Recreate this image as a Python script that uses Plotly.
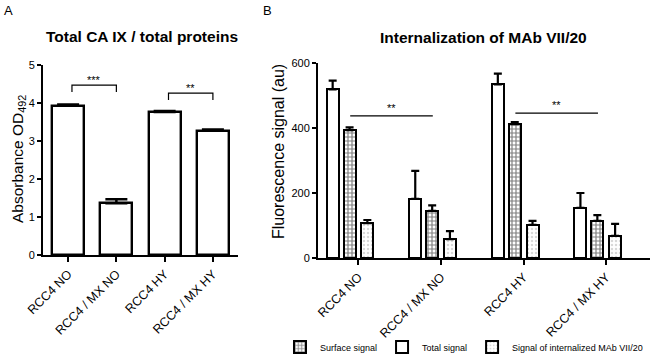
import plotly.graph_objects as go

FONT = "Liberation Sans, Arial, sans-serif"

# ---------------- data ----------------
categories = ["RCC4 NO", "RCC4 / MX NO", "RCC4 HY", "RCC4 / MX HY"]

# Panel A: absorbance OD492
absorbance = [3.93, 1.36, 3.76, 3.27]
absorbance_err = [0.03, 0.11, 0.03, 0.03]
sig_A = [(0, 1, 4.47, "***"), (2, 3, 4.26, "**")]

# Panel B: fluorescence signal (au)
surface_signal = [393, 145, 412, 114]
surface_err = [9, 17, 6, 18]
total_signal = [519, 182, 534, 154]
total_err = [27, 86, 33, 46]
internal_signal = [107, 58, 102, 68]
internal_err = [10, 25, 12, 37]
sig_B = [(0, 1, 437, "**"), (2, 3, 446, "**")]

W, H = 650, 359


def px_x(p):
    return p / W


def px_y(p):
    return (H - p) / H


fig = go.Figure()

# ---------------- Panel A ----------------
fig.add_trace(go.Bar(
    x=categories, y=absorbance, width=0.66,
    marker=dict(color="white", line=dict(color="black", width=2.4)),
    error_y=dict(type="data", array=absorbance_err, arrayminus=[0] * 4,
                 symmetric=False, color="black", thickness=2.5, width=11),
    showlegend=False, xaxis="x", yaxis="y",
))

# ---------------- Panel B ----------------
bw = 0.145
fig.add_trace(go.Bar(
    name="Surface signal", x=categories, y=surface_signal, width=bw, offset=-0.18,
    marker=dict(color="white", line=dict(color="black", width=2),
                pattern=dict(shape="+", fgcolor="black", bgcolor="white", size=4, solidity=0.5)),
    error_y=dict(type="data", array=surface_err, arrayminus=[0] * 4, symmetric=False,
                 color="black", thickness=2.2, width=4),
    xaxis="x2", yaxis="y2",
))
fig.add_trace(go.Bar(
    name="Total signal", x=categories, y=total_signal, width=bw, offset=-0.385,
    marker=dict(color="white", line=dict(color="black", width=2)),
    error_y=dict(type="data", array=total_err, arrayminus=[0] * 4, symmetric=False,
                 color="black", thickness=2.2, width=4),
    xaxis="x2", yaxis="y2",
))
fig.add_trace(go.Bar(
    name="Signal of internalized MAb VII/20", x=categories, y=internal_signal, width=bw, offset=0.035,
    marker=dict(color="white", line=dict(color="black", width=2),
                pattern=dict(shape=".", fgcolor="#b0b0b0", bgcolor="white", size=4, solidity=0.3)),
    error_y=dict(type="data", array=internal_err, arrayminus=[0] * 4, symmetric=False,
                 color="black", thickness=2.2, width=4),
    xaxis="x2", yaxis="y2",
))

shapes = []
annotations = []

# significance brackets panel A
for i, j, yv, label in sig_A:
    x0, x1 = i + 0.08, j + 0.0
    leg = 0.18
    shapes.append(dict(type="path", xref="x", yref="y",
                       path=f"M {x0},{yv - leg} L {x0},{yv} L {x1},{yv} L {x1},{yv - leg}",
                       line=dict(color="black", width=1.2)))
    annotations.append(dict(x=(x0 + x1) / 2, y=yv, xref="x", yref="y", text=label,
                            showarrow=False, yanchor="bottom", yshift=-3,
                            font=dict(family=FONT, size=11, color="black")))

# significance lines panel B
for i, j, yv, label in sig_B:
    x0, x1 = i - 0.1, j - 0.1
    shapes.append(dict(type="line", xref="x2", yref="y2", x0=x0, x1=x1, y0=yv, y1=yv,
                       line=dict(color="black", width=1.2)))
    annotations.append(dict(x=(x0 + x1) / 2, y=yv, xref="x2", yref="y2", text=label,
                            showarrow=False, yanchor="bottom", yshift=0,
                            font=dict(family=FONT, size=11, color="black")))

# titles, axis titles and panel letters
annotations += [
    dict(x=px_x(142), y=px_y(36), xref="paper", yref="paper", text="<b>Total CA IX / total proteins</b>",
         showarrow=False, xanchor="center", yanchor="middle", font=dict(family=FONT, size=15.5, color="black")),
    dict(x=px_x(484), y=px_y(37), xref="paper", yref="paper", text="<b>Internalization of MAb VII/20</b>",
         showarrow=False, xanchor="center", yanchor="middle", font=dict(family=FONT, size=15.5, color="black")),
    dict(x=px_x(2), y=px_y(10), xref="paper", yref="paper", text="A",
         showarrow=False, xanchor="left", yanchor="middle", font=dict(family=FONT, size=13, color="black")),
    dict(x=px_x(261), y=px_y(10), xref="paper", yref="paper", text="B",
         showarrow=False, xanchor="left", yanchor="middle", font=dict(family=FONT, size=13, color="black")),
    dict(x=px_x(18), y=px_y(159), xref="paper", yref="paper", text="Absorbance OD<sub>492</sub>",
         textangle=-90, showarrow=False, xanchor="center", yanchor="middle",
         font=dict(family=FONT, size=15.5, color="black")),
    dict(x=px_x(278), y=px_y(152), xref="paper", yref="paper", text="Fluorescence signal (au)",
         textangle=-90, showarrow=False, xanchor="center", yanchor="middle",
         font=dict(family=FONT, size=16, color="black")),
]

line_common = dict(showline=True, linecolor="black", linewidth=2, ticks="outside",
                   tickcolor="black", tickwidth=2, showgrid=False, zeroline=False,
                   automargin=False)
ytick_font = dict(family=FONT, size=11, color="black")
xtick_font = dict(family=FONT, size=12.5, color="black")

fig.update_layout(
    width=W, height=H, margin=dict(l=0, r=0, t=0, b=0, autoexpand=False),
    paper_bgcolor="white", plot_bgcolor="white",
    font=dict(family=FONT, color="black"),
    bargap=0,
    xaxis=dict(domain=[px_x(43), px_x(238)], range=[-0.52, 3.52], anchor="y",
               tickangle=-45, ticklen=5, tickfont=xtick_font, **line_common),
    yaxis=dict(domain=[px_y(255), px_y(65)], range=[0, 5], dtick=1, ticklen=4, anchor="x",
               tickfont=ytick_font, **line_common),
    xaxis2=dict(domain=[px_x(318), 1.0], range=[-0.49, 3.53], anchor="y2",
                tickangle=-45, ticklen=5, tickfont=xtick_font, **line_common),
    yaxis2=dict(domain=[px_y(258), px_y(63)], range=[0, 600], tickvals=[0, 200, 400, 600], ticklen=4,
                anchor="x2", tickfont=ytick_font, **line_common),
    legend=dict(orientation="h", x=px_x(280), xanchor="left", y=px_y(347), yanchor="middle",
                font=dict(family=FONT, size=9, color="black"), itemwidth=30,
                bgcolor="rgba(0,0,0,0)"),
    shapes=shapes,
    annotations=annotations,
)

fig.write_html("out.html", config={"displayModeBar": False},
               post_script="document.body.style.margin='0px';")
